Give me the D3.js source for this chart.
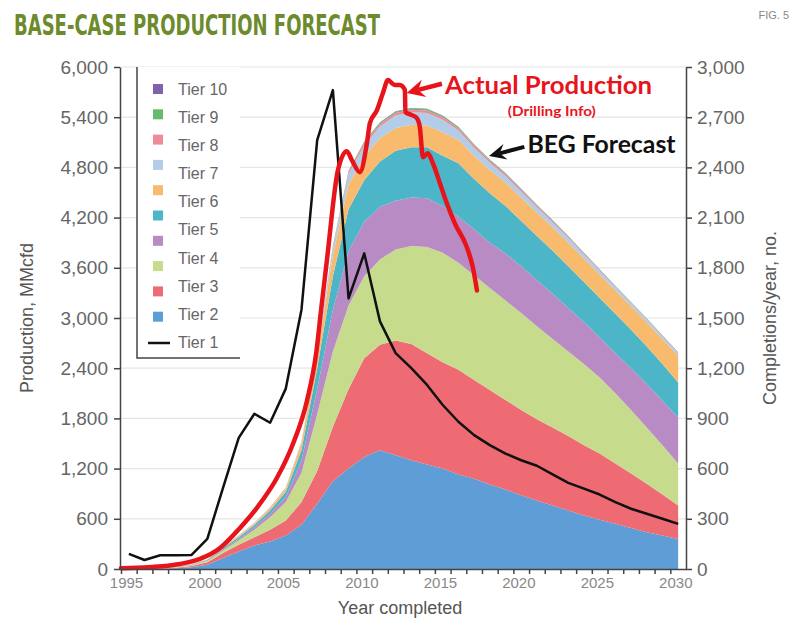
<!DOCTYPE html>
<html>
<head>
<meta charset="utf-8">
<script src="https://cdn.jsdelivr.net/npm/d3@7/dist/d3.min.js"></script>
<style>
  body { margin: 0; background: #fff; }
  svg text { font-family: "Liberation Sans", Arial, sans-serif; }
</style>
</head>
<body>
<div id="chart"></div>
<script>
// yearly forecast by tier, MMcfd (bottom layer first)
var years = d3.range(1995, 2031);
var tier2  = [0,0,2,8,20,50,130,210,280,330,400,530,780,1050, 1200,1340,1420,1360,1300,1250,1200,1130,1080,1010,950,880,820,760,700,640,590,540,490,440,400,360];
var tier3  = [0,1,3,7,15,30,60,80,100,140,180,270,390,650, 950,1180,1260,1370,1390,1330,1270,1250,1180,1130,1070,1020,970,930,890,840,790,720,650,580,490,400];
var tier4  = [0,1,2,5,10,15,30,50,90,150,220,350,680,900, 1000,980,1020,1090,1170,1270,1310,1280,1250,1220,1190,1160,1110,1060,1010,970,910,840,760,670,590,500];
var tier5  = [0,0,1,2,5,5,15,20,30,40,60,150,300,500, 650,650,630,580,580,580,560,550,550,540,560,560,550,540,520,500,480,480,500,520,530,550];
var tier6  = [0,1,1,2,5,8,15,20,25,40,60,120,250,400, 500,500,540,600,600,610,600,640,600,590,570,540,530,515,500,480,470,470,460,450,440,420];
var tier7  = [0,0,1,2,3,6,12,15,20,25,40,80,160,250, 300,280,280,270,270,260,280,280,280,280,280,280,280,280,280,280,280,280,280,290,300,320];
var tier8  = [0,0,0,1,1,2,3,4,5,6,8,15,30,80, 120,130,140,150,150,150,150,110,95,85,75,70,65,60,55,50,45,40,38,35,32,30];
var tier9  = [0,0,0,0,0,1,1,2,2,3,4,6,10,20, 25,30,30,30,30,30,30,28,26,24,22,20,18,16,14,12,10,9,8,7,6,5];
var tier10 = [0,0,0,0,0,0,1,1,1,2,2,3,5,10, 12,15,15,15,15,15,15,14,13,12,11,10,9,8,7,6,5,5,4,4,3,3];
var tier11 = [0,0,0,0,0,0,0,0,1,1,1,1,2,3, 4,5,5,5,5,5,5,5,4,4,4,4,3,3,3,3,2,2,2,2,2,2];
var layerColors = ["#5e9dd6","#ef6b74","#c6dc8c","#b98bc4","#4db5c8","#f8bb6e","#b2cde9","#ef8b97","#66bb6a","#7f62a8"];

// Tier 1 completions per year (right axis)
var completions = [90,54,82,82,84,180,485,784,928,874,1078,1550,2563,2862, 1617,1886,1480,1290,1200,1100,980,880,800,740,690,650,617,565,515,480,445,400,360,330,300,270];

// actual production (Drilling Info), MMcfd
var actualYears  = [1995,1996,1997,1998,1998.76,2000.03,2001.31,2002.58,2003.66,2004.94,2005.96,2006.85,2007.45,2007.75,2008.12,2008.82,2009.39,2009.71,2010.22,2010.67,2010.86,2011.31,2011.69,2012.01,2012.26,2012.45,2012.77,2013.09,2013.12,2013.53,2013.85,2014.04,2014.24,2014.55,2014.87,2015.32,2015.76,2016.27,2017.04,2017.42,2017.68];
var actualValues = [10,15,25,40,60,120,251,491,731,1090,1497,2012,2600,3100,3690,4766,4994,4886,4743,5090,5329,5485,5689,5844,5808,5784,5784,5725,5461,5425,5389,5281,4922,4970,4850,4611,4371,4132,3844,3605,3329];

// legend
var legendLabels = ["Tier 10","Tier 9","Tier 8","Tier 7","Tier 6","Tier 5","Tier 4","Tier 3","Tier 2","Tier 1"];
var legendSwatches = ["#7f62a8","#66bb6a","#ef8b97","#b2cde9","#f8bb6e","#4db5c8","#b98bc4","#c6dc8c","#ef6b74","#5e9dd6"];

var prodTicks = d3.range(0, 6001, 600);
var complTicks = d3.range(0, 3001, 300);

function draw_chart()
{
  var width = 791, height = 619;
  var left = 120, right = 686, top = 67, bottom = 569;

  var svg = d3.select("#chart").append("svg")
      .attr("width", width)
      .attr("height", height);

  var x = d3.scaleLinear().domain([1995, 2031]).range([121, right]);
  var y = d3.scaleLinear().domain([0, 6000]).range([bottom, top]);
  var y2 = d3.scaleLinear().domain([0, 3000]).range([bottom, top]);

  // title
  svg.append("text")
      .attr("x", 14).attr("y", 35)
      .attr("textLength", 366).attr("lengthAdjust", "spacingAndGlyphs")
      .style("font-family", "'Liberation Sans Narrow', 'DejaVu Sans Condensed', sans-serif")
      .style("font-weight", "bold")
      .style("font-size", "29px")
      .attr("fill", "#6d8b2c")
      .text("BASE-CASE PRODUCTION FORECAST");

  svg.append("text")
      .attr("x", 789).attr("y", 19)
      .attr("text-anchor", "end")
      .style("font-family", "'Liberation Sans Narrow', sans-serif")
      .style("font-size", "11px")
      .attr("fill", "#888")
      .text("FIG. 5");

  // gridlines
  svg.append("g").selectAll("line")
      .data(prodTicks.slice(1))
    .enter().append("line")
      .attr("x1", left).attr("x2", right)
      .attr("y1", function(d) { return y(d); })
      .attr("y2", function(d) { return y(d); })
      .attr("stroke", "#e6e6e6")
      .attr("stroke-width", 1.2);

  // stacked areas
  var layers = [tier2, tier3, tier4, tier5, tier6, tier7, tier8, tier9, tier10, tier11];
  var table = years.map(function(yr, i) {
    var row = {year: yr};
    layers.forEach(function(l, k) { row["k" + k] = l[i]; });
    return row;
  });
  var keys = layers.map(function(l, k) { return "k" + k; });
  var series = d3.stack().keys(keys)(table);

  var area = d3.area()
      .x(function(d) { return x(d.data.year + 0.5); })
      .y0(function(d) { return y(d[0]); })
      .y1(function(d) { return y(d[1]); });

  svg.append("g").selectAll("path")
      .data(series)
    .enter().append("path")
      .attr("d", area)
      .attr("fill", function(d, i) { return layerColors[i]; });

  // legend box
  var lg = svg.append("g");
  lg.append("rect")
      .attr("x", 137).attr("y", top)
      .attr("width", 103).attr("height", 358 - top)
      .attr("fill", "#fff");
  lg.append("path")
      .attr("d", "M137," + top + "V358H240")
      .attr("fill", "none")
      .attr("stroke", "#444")
      .attr("stroke-width", 1.5);
  lg.selectAll(".sw")
      .data(legendSwatches)
    .enter().append("rect")
      .attr("class", "sw")
      .attr("x", 153)
      .attr("y", function(d, i) { return 84 + i * 25.3; })
      .attr("width", 10).attr("height", 10)
      .attr("fill", function(d) { return d; });
  lg.selectAll(".lab")
      .data(legendLabels)
    .enter().append("text")
      .attr("class", "lab")
      .attr("x", 178)
      .attr("y", function(d, i) { return 89 + i * 28.15; })
      .attr("dy", "0.35em")
      .style("font-size", "16px")
      .attr("fill", "#666")
      .text(function(d) { return d; });
  lg.append("line")
      .attr("x1", 148).attr("x2", 170)
      .attr("y1", 343).attr("y2", 343)
      .attr("stroke", "#111")
      .attr("stroke-width", 2.5);

  // Tier 1 completions
  var cline = d3.line()
      .x(function(d, i) { return x(years[i] + 0.5); })
      .y(function(d) { return y2(d); });
  svg.append("path")
      .datum(completions)
      .attr("d", cline)
      .attr("fill", "none")
      .attr("stroke", "#111")
      .attr("stroke-width", 2.5)
      .attr("stroke-linejoin", "round");

  // actual production
  var aline = d3.line()
      .curve(d3.curveMonotoneX)
      .x(function(d, i) { return x(actualYears[i]); })
      .y(function(d) { return y(d); });
  svg.append("path")
      .datum(actualValues)
      .attr("d", aline)
      .attr("fill", "none")
      .attr("stroke", "#e8141c")
      .attr("stroke-width", 4.5)
      .attr("stroke-linejoin", "round")
      .attr("stroke-linecap", "round");

  // axes
  var xAxis = svg.append("g")
      .attr("transform", "translate(0," + bottom + ")")
      .call(d3.axisBottom(x)
        .tickValues(d3.range(1995, 2031))
        .tickSize(5)
        .tickSizeOuter(0)
        .tickFormat(function(d) { return d % 5 == 0 ? d : ""; }));
  xAxis.selectAll("text")
      .attr("dx", 5)
      .style("font-size", "15px")
      .attr("fill", "#888");

  var yAxis = svg.append("g")
      .attr("transform", "translate(" + left + ",0)")
      .call(d3.axisLeft(y)
        .tickValues(prodTicks)
        .tickFormat(d3.format(","))
        .tickSize(6)
        .tickSizeOuter(0)
        .tickPadding(6));
  yAxis.selectAll("text")
      .style("font-size", "19px")
      .attr("fill", "#666");

  var y2Axis = svg.append("g")
      .attr("transform", "translate(" + right + ",0)")
      .call(d3.axisRight(y2)
        .tickValues(complTicks)
        .tickFormat(d3.format(","))
        .tickSize(6)
        .tickSizeOuter(0)
        .tickPadding(5));
  y2Axis.selectAll("text")
      .style("font-size", "19px")
      .attr("fill", "#666");

  svg.selectAll(".domain, .tick line")
      .attr("stroke", "#444")
      .attr("stroke-width", 1.5);

  // axis titles
  svg.append("text")
      .attr("transform", "translate(33,318)rotate(-90)")
      .attr("text-anchor", "middle")
      .style("font-size", "18px")
      .attr("fill", "#555")
      .text("Production, MMcfd");
  svg.append("text")
      .attr("transform", "translate(776,318)rotate(-90)")
      .attr("text-anchor", "middle")
      .style("font-size", "18px")
      .attr("fill", "#555")
      .text("Completions/year, no.");
  svg.append("text")
      .attr("x", 400).attr("y", 614)
      .attr("text-anchor", "middle")
      .style("font-size", "18px")
      .attr("fill", "#555")
      .text("Year completed");

  // annotations
  function arrow(x1, y1, x2, y2, color, w, hl, hw)
  {
    var dx = x2 - x1, dy = y2 - y1, len = Math.sqrt(dx * dx + dy * dy);
    var ux = dx / len, uy = dy / len, px = -uy, py = ux;
    var bx = x2 - ux * hl, by = y2 - uy * hl;
    svg.append("line")
        .attr("x1", x1).attr("y1", y1)
        .attr("x2", bx + ux * 3).attr("y2", by + uy * 3)
        .attr("stroke", color).attr("stroke-width", w);
    svg.append("path")
        .attr("d", "M" + x2 + "," + y2 +
          "L" + (bx - ux * 3 + px * hw) + "," + (by - uy * 3 + py * hw) +
          "L" + (bx + ux * 3) + "," + (by + uy * 3) +
          "L" + (bx - ux * 3 - px * hw) + "," + (by - uy * 3 - py * hw) + "Z")
        .attr("fill", color);
  }

  arrow(x(2015.45), y(5800), x(2013.2), y(5690), "#e8141c", 4.5, 15, 9);
  arrow(x(2020.7), y(5045), x(2018.45), y(4935), "#111", 4, 14, 8);

  svg.append("text")
      .attr("x", x(2015.65)).attr("y", y(5680))
      .attr("textLength", 207).attr("lengthAdjust", "spacingAndGlyphs")
      .style("font-family", "Lato, 'Open Sans', sans-serif")
      .style("font-weight", "bold")
      .style("font-size", "25px")
      .attr("fill", "#e8141c")
      .text("Actual Production");
  svg.append("text")
      .attr("x", x(2022.45)).attr("y", y(5415))
      .attr("text-anchor", "middle")
      .attr("textLength", 88).attr("lengthAdjust", "spacingAndGlyphs")
      .style("font-family", "Lato, 'Open Sans', sans-serif")
      .style("font-weight", "bold")
      .style("font-size", "13px")
      .attr("fill", "#e8141c")
      .text("(Drilling Info)");
  svg.append("text")
      .attr("x", x(2020.9)).attr("y", y(4972))
      .attr("textLength", 148).attr("lengthAdjust", "spacingAndGlyphs")
      .style("font-family", "Lato, 'Open Sans', sans-serif")
      .style("font-weight", "bold")
      .style("font-size", "24px")
      .attr("fill", "#111")
      .text("BEG Forecast");
}
draw_chart();
</script>
</body>
</html>
